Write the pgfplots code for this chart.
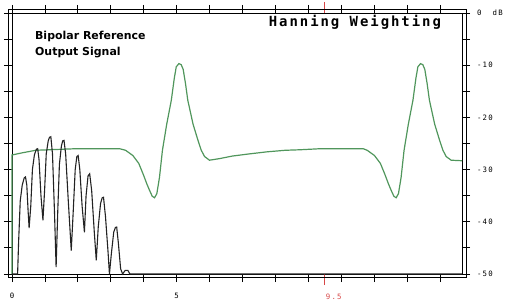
\documentclass[border=0pt]{standalone}
\usepackage{pgfplots}
\pgfplotsset{compat=1.18}
\usepackage{fontspec}
\setmainfont{DejaVu Sans}
\newfontfamily\tickfont[LetterSpace=15]{DejaVu Sans Mono}
\newfontfamily\titlefont[LetterSpace=14]{DejaVu Sans Mono Bold}
\newfontfamily\labfont{DejaVu Sans}
\definecolor{curvegreen}{RGB}{80,150,92}
\definecolor{tickred}{RGB}{215,70,70}
\definecolor{sigblack}{RGB}{35,35,35}
\begin{document}
\begin{tikzpicture}
\begin{axis}[
  scale only axis, width=450bp, height=261bp,
  xmin=0, xmax=13.67, ymin=-50, ymax=0,
  clip=false,
  axis line style={line width=0.8bp},
  tick align=outside,
  major tick length=8bp,
  major tick style={line width=0.8bp, black},
  xtick pos=both, ytick pos=both,
  xtick={0,1,...,13},
  xticklabels={0,,,,,5,,,,,,,,},
  ytick={-50,-45,...,0},
  yticklabels={-50,,-40,,-30,,-20,,-10,,{0\ \ dB}},
  yticklabel pos=right,
  ticklabel style={font=\tickfont\fontsize{7.4}{8}\selectfont},
  yticklabel style={anchor=west, inner sep=0pt, xshift=7bp},
  xticklabel style={inner sep=0pt, yshift=-11bp},
  extra x ticks={9.5},
  extra x tick labels={9.5},
  extra x tick style={major tick style={tickred, line width=0.8bp}, major tick length=11bp,
     xticklabel style={text=tickred, xshift=9bp, yshift=2bp}},
]
\addplot[curvegreen, line width=1.2bp] coordinates {
(0,-50) (0,-27.2) (0.3,-26.8) (0.72,-26.3) (1.94,-26.0) (3.27,-26.0) (3.45,-26.3)
(3.67,-27.3) (3.85,-28.8) (3.98,-30.8) (4.1,-32.8) (4.18,-34.0) (4.26,-35.1) (4.33,-35.4)
(4.40,-34.6) (4.48,-31.5) (4.57,-26.3) (4.7,-21.3) (4.84,-16.7) (4.93,-12.5) (4.99,-10.3)
(5.07,-9.7) (5.14,-9.9) (5.20,-10.8) (5.27,-13.5) (5.34,-16.7) (5.5,-21.3) (5.65,-24.4)
(5.75,-26.3) (5.85,-27.5) (6.0,-28.2) (6.3,-27.9) (6.7,-27.4) (7.2,-27.0) (7.74,-26.6)
(8.3,-26.3) (8.75,-26.2) (9.36,-26.0) (10.67,-26.0)
(10.79,-26.3) (11.01,-27.3) (11.19,-28.8) (11.32,-30.8) (11.44,-32.8) (11.52,-34.0)
(11.60,-35.1) (11.67,-35.4) (11.74,-34.6) (11.82,-31.5) (11.91,-26.3) (12.04,-21.3)
(12.18,-16.7) (12.27,-12.5) (12.33,-10.3) (12.41,-9.7) (12.48,-9.9) (12.54,-10.8)
(12.61,-13.5) (12.68,-16.7) (12.84,-21.3) (12.99,-24.4) (13.09,-26.3) (13.19,-27.5)
(13.34,-28.2) (13.67,-28.3)
};
\addplot[sigblack, line width=1.1bp] coordinates {
(0,-50) (0.17,-50) (0.2,-44) (0.25,-36) (0.31,-33) (0.37,-31.6) (0.41,-31.4) (0.45,-33)
(0.49,-38) (0.52,-41.2) (0.57,-37) (0.62,-30) (0.68,-27.2) (0.74,-26.1) (0.78,-26)
(0.82,-28) (0.88,-35) (0.94,-39.7) (0.99,-34) (1.04,-27) (1.1,-24.5) (1.14,-23.8)
(1.18,-23.7) (1.23,-27) (1.29,-38) (1.34,-48.7) (1.39,-38) (1.44,-29) (1.5,-25.5)
(1.54,-24.5) (1.58,-24.4) (1.63,-27) (1.71,-36) (1.80,-45.5) (1.86,-38) (1.92,-30)
(1.97,-27.5) (2.01,-27.3) (2.06,-30) (2.13,-37) (2.2,-42) (2.25,-35) (2.31,-31.2)
(2.36,-30.8) (2.42,-34) (2.5,-42) (2.56,-47.4) (2.62,-41) (2.69,-36.5) (2.74,-35.4)
(2.78,-35.3) (2.84,-39) (2.92,-46) (2.96,-50) (3.02,-46) (3.09,-42) (3.14,-41.1)
(3.18,-41) (3.23,-44) (3.3,-49) (3.36,-50) (3.44,-49.3) (3.52,-49.3) (3.58,-50) (13.67,-50)
};
\draw[line width=0.8bp] ([xshift=-3.5bp,yshift=-3bp]rel axis cs:0,0) rectangle ([xshift=4bp,yshift=3.3bp]rel axis cs:1,1);
\node[anchor=center, inner sep=0pt, font=\titlefont\fontsize{14}{16}\selectfont] at (rel axis cs:0.762,0.966) {Hanning Weighting};
\node[anchor=north west, align=left, inner sep=0pt, font=\labfont\bfseries\fontsize{11}{17}\selectfont] at (rel axis cs:0.051,0.933) {Bipolar Reference\\Output Signal};
\coordinate (sw) at (rel axis cs:0,0);
\coordinate (ne) at (rel axis cs:1,1);
\end{axis}
\pgfresetboundingbox
\path ([shift={(-12bp,-29bp)}]sw) rectangle ([shift={(52bp,13bp)}]ne);
\end{tikzpicture}
\end{document}
